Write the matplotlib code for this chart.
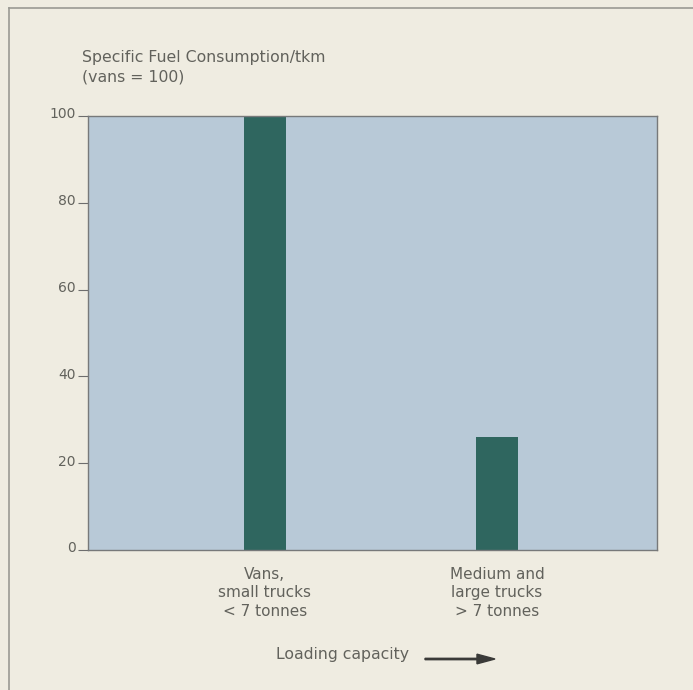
import matplotlib.pyplot as plt
from matplotlib.lines import Line2D
from matplotlib.patches import FancyArrow
from matplotlib.transforms import ScaledTranslation

categories = ["Vans,\nsmall trucks\n< 7 tonnes", "Medium and\nlarge trucks\n> 7 tonnes"]
values = [100, 26]
yticks = [0, 20, 40, 60, 80, 100]

paper = '#efece1'
panel = '#b8c9d7'
bar_col = '#2f665f'
txt = '#62625c'

plt.rcParams['font.family'] = ['DejaVu Sans']

fig = plt.figure(figsize=(6.93, 6.90), dpi=100, facecolor=paper)
W, H = 693, 690
ax = fig.add_axes([88 / W, 1 - 550 / H, (657 - 88) / W, (550 - 116) / H])
ax.set_facecolor(panel)

x = list(range(len(categories)))
ax.bar(x, values, width=0.18, color=bar_col, zorder=2)
ax.set_xlim(-0.762, 1.689)
ax.set_ylim(0, 100)

ax.set_yticks(yticks)
ax.set_yticklabels([str(v) for v in yticks], fontsize=10, color=txt)
ax.tick_params(axis='y', length=7, width=0.8, color='#6d6d6d', pad=2, direction='out')
# labels sit a little above their tick in the original
for lab in ax.get_yticklabels():
    lab.set_transform(lab.get_transform() + ScaledTranslation(0, 3 / 100, fig.dpi_scale_trans))
ax.set_xticks(x)
ax.set_xticklabels(categories, fontsize=11, color=txt, linespacing=1.3)
ax.tick_params(axis='x', length=0, pad=12)
for s in ax.spines.values():
    s.set_color('#77797a')
    s.set_linewidth(1.0)

fig.text(82 / W, 1 - 67 / H, "Specific Fuel Consumption/tkm\n(vans = 100)",
         fontsize=11.3, color=txt, ha='left', va='center', linespacing=1.35)

fig.text(343 / W, 1 - 655 / H, "Loading capacity", fontsize=11.3, color=txt,
         ha='center', va='center')
fig.patches.append(FancyArrow(
    425 / W, 1 - 659 / H, 70 / W, 0, width=0.002, head_width=0.014,
    head_length=0.026, length_includes_head=True, color='#3a3a38',
    transform=fig.transFigure, figure=fig))

# frame of the page
fig.add_artist(Line2D([9 / W, 1], [1 - 8 / H, 1 - 8 / H], color='#9a9a94', lw=1.2))
fig.add_artist(Line2D([9 / W, 9 / W], [0, 1 - 8 / H], color='#9a9a94', lw=1.2))

fig.savefig('out.png', dpi=100, facecolor=paper)
